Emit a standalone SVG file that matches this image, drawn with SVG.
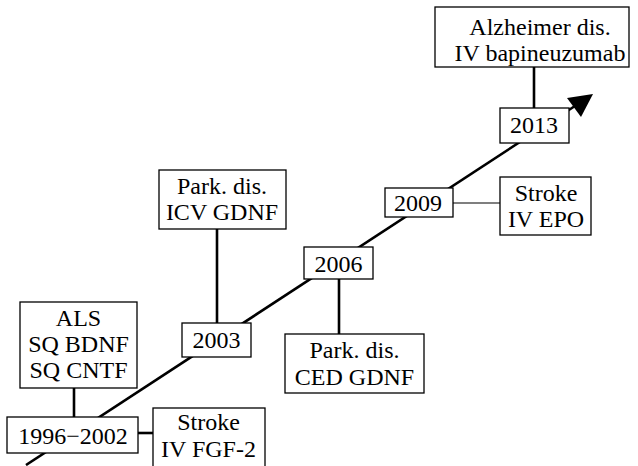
<svg xmlns="http://www.w3.org/2000/svg" width="638" height="466" viewBox="0 0 638 466">
<style>
.box{fill:#fff;stroke:#000;stroke-width:1.3}
.t{font-family:"Liberation Serif","Times New Roman",serif;font-size:24px;fill:#000;text-anchor:middle}
.c{stroke:#000;stroke-width:2.6;fill:none}
.thin{stroke:#000;stroke-width:1.2;fill:none}
</style>
<rect width="638" height="466" fill="#fff"/>
<g id="connectors">
<line class="c" x1="26" y1="465" x2="578" y2="104" stroke-width="3"/>
<polygon points="593,94 567,98 581,117" fill="#000"/>
<line class="c" x1="74" y1="388" x2="74" y2="417"/>
<line class="c" x1="138" y1="433" x2="153" y2="433"/>
<line class="c" x1="217" y1="229" x2="217" y2="323"/>
<line class="c" x1="339" y1="279" x2="339" y2="334"/>
<line class="thin" x1="453" y1="203" x2="500" y2="203"/>
<line class="c" x1="534" y1="67" x2="534" y2="108"/>
</g>
<g id="als">
<rect class="box" x="20" y="302" width="117" height="86"/>
<text class="t" x="78.5" y="326">ALS</text>
<text class="t" x="78.5" y="352">SQ BDNF</text>
<text class="t" x="78.5" y="378">SQ CNTF</text>
</g>
<g id="y1996">
<rect class="box" x="7" y="417" width="131" height="36"/>
<text class="t" x="73" y="444">1996−2002</text>
</g>
<g id="strokeFGF">
<rect class="box" x="153" y="408" width="112" height="70"/>
<text class="t" x="208.5" y="430">Stroke</text>
<text class="t" x="208.5" y="457">IV FGF-2</text>
</g>
<g id="icv">
<rect class="box" x="159" y="170" width="127" height="59"/>
<text class="t" x="222" y="194">Park. dis.</text>
<text class="t" x="222" y="220">ICV GDNF</text>
</g>
<g id="y2003">
<rect class="box" x="182" y="323" width="69" height="34"/>
<text class="t" x="216.5" y="348">2003</text>
</g>
<g id="y2006">
<rect class="box" x="304" y="247" width="69" height="32"/>
<text class="t" x="338.5" y="272">2006</text>
</g>
<g id="ced">
<rect class="box" x="285" y="334" width="139" height="59"/>
<text class="t" x="354.5" y="358">Park. dis.</text>
<text class="t" x="354.5" y="385">CED GDNF</text>
</g>
<g id="y2009">
<rect class="box" x="385" y="188" width="68" height="29"/>
<text class="t" x="418" y="211">2009</text>
</g>
<g id="strokeEPO">
<rect class="box" x="500" y="177" width="91" height="58"/>
<text class="t" x="546" y="201">Stroke</text>
<text class="t" x="546" y="227">IV EPO</text>
</g>
<g id="y2013">
<rect class="box" x="500" y="108" width="69" height="35"/>
<text class="t" x="534" y="133">2013</text>
</g>
<g id="alz">
<rect class="box" x="435" y="7" width="194" height="60"/>
<text class="t" x="540" y="35">Alzheimer dis.</text>
<text class="t" x="540" y="61">IV bapineuzumab</text>
</g>
</svg>
